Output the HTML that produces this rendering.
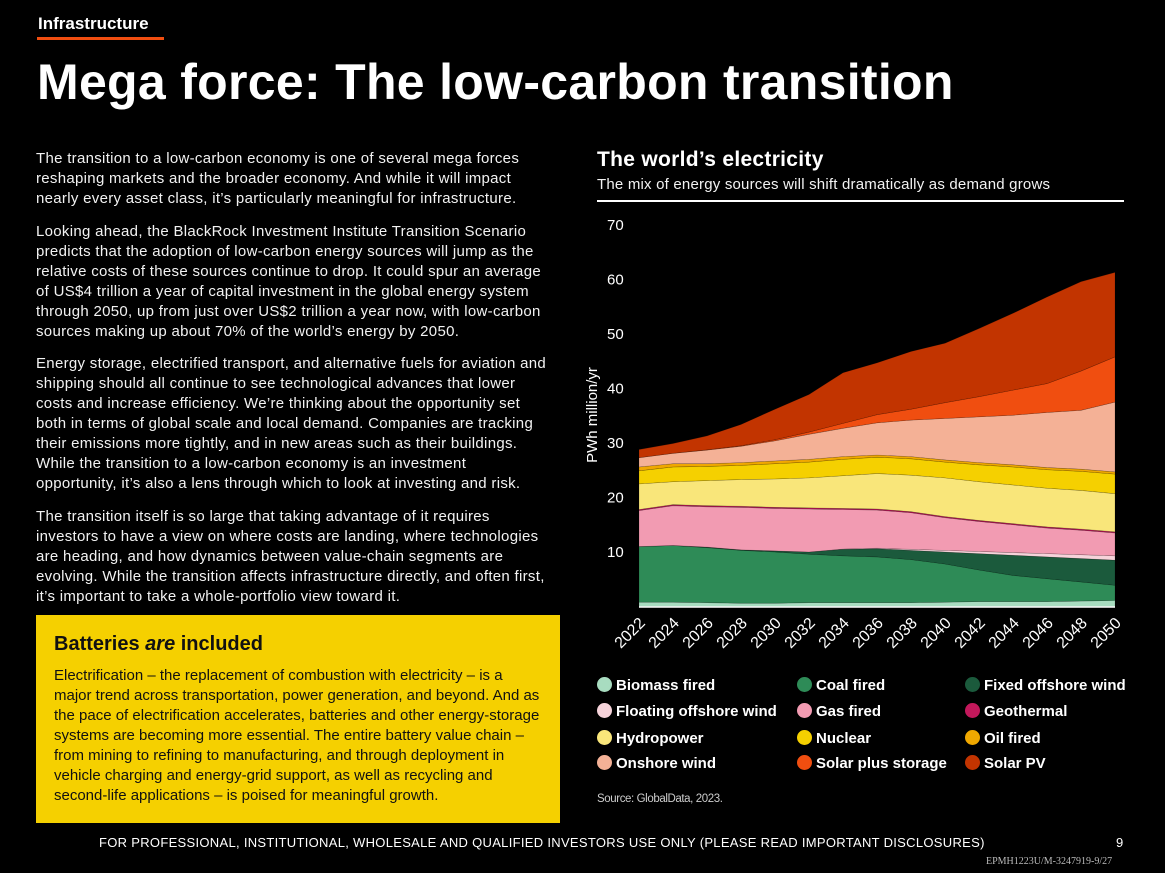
<!DOCTYPE html>
<html><head><meta charset="utf-8">
<style>
*{margin:0;padding:0;box-sizing:border-box}
body{width:1165px;height:873px;background:#000;color:#fff;font-family:"Liberation Sans",sans-serif;position:relative;overflow:hidden}
.abs{position:absolute;white-space:nowrap}
.p{font-size:15px;line-height:20px;color:#f2f2f2;letter-spacing:0.3px}
.leg{font-size:15px;font-weight:bold}
</style></head><body>
<div class="abs" style="left:38px;top:14px;font-size:17px;font-weight:bold">Infrastructure</div>
<div class="abs" style="left:37px;top:37px;width:127px;height:3px;background:#f04e10"></div>
<div class="abs" style="left:37px;top:53px;font-size:50px;font-weight:bold;letter-spacing:0.3px">Mega force: The low-carbon transition</div>

<div class="abs p" style="left:36px;top:149px">The transition to a low-carbon economy is one of several mega forces<br>reshaping markets and the broader economy. And while it will impact<br>nearly every asset class, it’s particularly meaningful for infrastructure.</div>
<div class="abs p" style="left:36px;top:222px">Looking ahead, the BlackRock Investment Institute Transition Scenario<br>predicts that the adoption of low-carbon energy sources will jump as the<br>relative costs of these sources continue to drop. It could spur an average<br>of US$4 trillion a year of capital investment in the global energy system<br>through 2050, up from just over US$2 trillion a year now, with low-carbon<br>sources making up about 70% of the world’s energy by 2050.</div>
<div class="abs p" style="left:36px;top:354px">Energy storage, electrified transport, and alternative fuels for aviation and<br>shipping should all continue to see technological advances that lower<br>costs and increase efficiency. We’re thinking about the opportunity set<br>both in terms of global scale and local demand. Companies are tracking<br>their emissions more tightly, and in new areas such as their buildings.<br>While the transition to a low-carbon economy is an investment<br>opportunity, it’s also a lens through which to look at investing and risk.</div>
<div class="abs p" style="left:36px;top:507px">The transition itself is so large that taking advantage of it requires<br>investors to have a view on where costs are landing, where technologies<br>are heading, and how dynamics between value-chain segments are<br>evolving. While the transition affects infrastructure directly, and often first,<br>it’s important to take a whole-portfolio view toward it.</div>

<div class="abs" style="left:36px;top:615px;width:524px;height:208px;background:#f5d000;color:#111">
  <div class="abs" style="left:18px;top:18px;font-size:20px;font-weight:bold">Batteries <i>are</i> included</div>
  <div class="abs p" style="left:18px;top:51px;color:#111;letter-spacing:0px">Electrification – the replacement of combustion with electricity – is a<br>major trend across transportation, power generation, and beyond. And as<br>the pace of electrification accelerates, batteries and other energy-storage<br>systems are becoming more essential. The entire battery value chain –<br>from mining to refining to manufacturing, and through deployment in<br>vehicle charging and energy-grid support, as well as recycling and<br>second-life applications – is poised for meaningful growth.</div>
</div>

<div class="abs" style="left:597px;top:148px;font-size:21px;font-weight:bold;letter-spacing:0.3px">The world’s electricity</div>
<div class="abs p" style="left:597px;top:175px;font-size:15px;letter-spacing:0.2px">The mix of energy sources will shift dramatically as demand grows</div>
<div class="abs" style="left:597px;top:200px;width:527px;height:2px;background:#fff"></div>

<svg class="abs" style="left:580px;top:205px" width="585" height="470" viewBox="580 205 585 470" xmlns="http://www.w3.org/2000/svg">
<g id="layers"></g><g id="axes"></g>
</svg>

<div id="legend"></div>

<div class="abs" style="left:597px;top:793px;font-size:11.5px;color:#ccc;letter-spacing:-0.4px">Source: GlobalData, 2023.</div>
<div class="abs" style="left:99px;top:835px;font-size:13px;letter-spacing:0.3px">FOR PROFESSIONAL, INSTITUTIONAL, WHOLESALE AND QUALIFIED INVESTORS USE ONLY (PLEASE READ IMPORTANT DISCLOSURES)</div>
<div class="abs" style="left:1116px;top:835px;font-size:13px">9</div>
<div class="abs" style="left:986px;top:856px;font-size:10px;color:#bbb;font-family:'Liberation Serif',serif">EPMH1223U/M-3247919-9/27</div>

<script>
const years = [2022,2024,2026,2028,2030,2032,2034,2036,2038,2040,2042,2044,2046,2048,2050];
const seriesNames = ["Biomass fired","Coal fired","Fixed offshore wind","Floating offshore wind","Gas fired","Geothermal","Hydropower","Nuclear","Oil fired","Onshore wind","Solar plus storage","Solar PV"];
const biomass = [0.8,0.8,0.7,0.6,0.6,0.7,0.7,0.7,0.7,0.8,0.9,0.9,0.9,1.0,1.1];
const coal = [10.2,10.4,10.1,9.7,9.4,8.9,8.6,8.4,7.9,7.0,5.8,4.8,4.2,3.5,2.8];
const fixedWind = [0,0,0.1,0.1,0.2,0.4,1.2,1.5,1.7,2.2,3.0,3.7,4.0,4.3,4.6];
const floatingWind = [0,0,0,0,0,0,0.05,0.1,0.2,0.3,0.4,0.5,0.6,0.7,0.8];
const gas = [6.6,7.3,7.4,7.8,7.8,7.9,7.25,7.0,6.7,6.0,5.5,5.1,4.7,4.5,4.2];
const geothermal = [0.2,0.2,0.2,0.2,0.2,0.2,0.2,0.2,0.2,0.2,0.2,0.2,0.2,0.2,0.2];
const hydro = [4.7,4.2,4.6,4.9,5.2,5.5,6.0,6.5,6.7,7.1,7.1,7.1,7.1,7.1,7.0];
const nuclear = [2.4,2.7,2.6,2.6,2.8,2.9,3.0,3.0,3.0,2.9,3.1,3.3,3.4,3.5,3.6];
const oil = [0.7,0.6,0.5,0.5,0.5,0.5,0.5,0.4,0.4,0.4,0.4,0.4,0.4,0.4,0.4];
const onshore = [1.7,1.9,2.5,3.0,3.7,4.6,5.2,5.9,6.7,7.6,8.4,9.1,10.1,10.8,12.8];
const solarStorage = [0,0,0.05,0.1,0.2,0.4,0.9,1.5,2.0,2.9,3.7,4.6,5.3,7.2,8.3];
const solarPV = [1.5,1.8,2.55,3.9,5.6,6.9,9.3,9.5,10.6,10.9,12.5,14.1,15.9,16.4,15.5];
const yTicks = [10,20,30,40,50,60,70];
const colors = ["#a8dcc0","#2e8b57","#1b5a3c","#f6d3da","#f29bb2","#c2185b","#f9e67a","#f5d000","#f0a800","#f4b196","#f04e10","#c23400"];

const allSeries = [biomass,coal,fixedWind,floatingWind,gas,geothermal,hydro,nuclear,oil,onshore,solarStorage,solarPV];
const X0=639, X1=1115, Y0=606.5, PX=5.45;
function xs(yr){return X0+(yr-years[0])/(years[years.length-1]-years[0])*(X1-X0);}
function ys(v){return Y0-v*PX;}
const NS="http://www.w3.org/2000/svg";
const gL=document.getElementById('layers'), gA=document.getElementById('axes');
let base=years.map(()=>0);
allSeries.forEach((s,i)=>{
  const top=base.map((b,j)=>b+s[j]);
  let d="M"+years.map((y,j)=>xs(y)+","+ys(top[j])).join(" L");
  for(let j=years.length-1;j>=0;j--) d+=" L"+xs(years[j])+","+ys(base[j]);
  d+=" Z";
  const p=document.createElementNS(NS,'path');
  p.setAttribute('d',d);p.setAttribute('fill',colors[i]);
  p.setAttribute('stroke','rgba(0,0,0,0.25)');p.setAttribute('stroke-width','0.6');
  
  
  gL.appendChild(p);
  base=top;
});
const bl=document.createElementNS(NS,'line');
bl.setAttribute('x1',X0);bl.setAttribute('x2',X1);bl.setAttribute('y1',Y0+0.5);bl.setAttribute('y2',Y0+0.5);
bl.setAttribute('stroke','#fff');bl.setAttribute('stroke-width','1.5');


gA.appendChild(bl);
yTicks.forEach(v=>{
  const t=document.createElementNS(NS,'text');
  t.setAttribute('x',607);t.setAttribute('y',ys(v)+5);
  t.setAttribute('fill','#fff');t.setAttribute('font-size','15');t.setAttribute('font-family','Liberation Sans, sans-serif');
  t.textContent=v;
  
  
  gA.appendChild(t);
});
years.forEach(y=>{
  const t=document.createElementNS(NS,'text');
  const x=xs(y)+7, yy=624;
  t.setAttribute('x',x);t.setAttribute('y',yy);t.setAttribute('text-anchor','end');
  t.setAttribute('transform','rotate(-45 '+x+' '+yy+')');
  t.setAttribute('fill','#fff');t.setAttribute('font-size','16');t.setAttribute('font-family','Liberation Sans, sans-serif');
  t.textContent=y;
  
  
  gA.appendChild(t);
});
const yl=document.createElementNS(NS,'text');
yl.setAttribute('x',0);yl.setAttribute('y',0);yl.setAttribute('text-anchor','middle');
yl.setAttribute('transform','translate(597 415) rotate(-90)');
yl.setAttribute('fill','#fff');yl.setAttribute('font-size','15');yl.setAttribute('font-family','Liberation Sans, sans-serif');
yl.textContent='PWh million/yr';


gA.appendChild(yl);

const leg=document.getElementById('legend');
const colX=[597,797,965], rowY=[686,712,739,764];
seriesNames.forEach((n,i)=>{
  const e=document.createElement('div');
  e.className='abs leg';
  e.style.left=colX[i%3]+'px';e.style.top=(rowY[Math.floor(i/3)]-9)+'px';
  e.innerHTML='<span style="display:inline-block;width:15px;height:15px;border-radius:50%;background:'+colors[i]+';vertical-align:-2px;margin-right:4px"></span>'+n;
  
  
  leg.appendChild(e);
});
</script>
</body></html>
